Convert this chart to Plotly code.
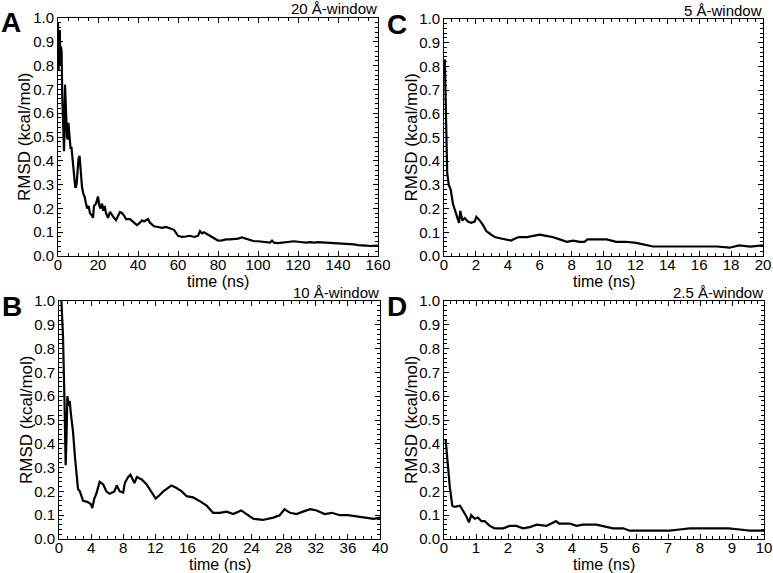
import plotly.graph_objects as go

# ---------------- data ----------------
tA = [0, 0.3, 0.6, 0.9, 1.2, 1.5, 1.8, 2.1, 2.4, 2.7, 3.0, 3.2, 3.5, 3.8, 4.1, 4.5, 4.9, 5.2, 5.6, 5.9, 6.3, 6.7, 7.0,
      7.4, 7.8, 8.2, 8.6, 9.0, 9.4, 9.8,
      10.3, 10.8, 11.4, 12.0, 12.7, 13.3, 14.0, 14.6, 15.3, 16.0, 17.0, 17.5, 18.0, 19.0, 20.0, 20.7, 21.3,
      22.0, 22.6, 23.3, 24.0, 25.0, 26.0, 27.0, 28.0, 29.0, 30.0, 31.0, 32.0, 33.0, 34.0, 36.0, 38.0, 39.5,
      41.0, 42.0, 43.0, 44.0, 45.0, 46.0, 48.0, 50.0, 52.0, 54.0, 56.0, 58.0, 60.0, 62.0, 64.0, 66.0, 68.0,
      70.0, 71.0, 72.0, 73.0, 74.0, 76.0, 78.0, 80.0, 82.0, 84.0, 86.0, 88.0, 90.0, 92.0, 94.0, 96.0, 98.0,
      100.0, 102.0, 104.0, 106.0, 107.0, 108.0, 110.0, 112.0, 114.0, 116.0, 118.0, 120.0, 122.0, 124.0,
      126.0, 128.0, 130.0, 132.0, 134.0, 136.0, 138.0, 140.0, 142.0, 144.0, 146.0, 148.0, 150.0, 152.0,
      154.0, 156.0, 158.0, 160.0]
rA = [0.98, 0.78, 0.93, 0.95, 0.80, 0.88, 0.86, 0.68, 0.63, 0.52, 0.44, 0.50, 0.72, 0.62, 0.55, 0.50, 0.49, 0.56, 0.52, 0.48, 0.45, 0.46, 0.43,
      0.41, 0.36, 0.31, 0.29, 0.29, 0.31, 0.36,
      0.41, 0.42, 0.36, 0.29, 0.26, 0.25, 0.22, 0.20, 0.21, 0.18, 0.17, 0.16, 0.21, 0.22, 0.25, 0.21, 0.20,
      0.22, 0.19, 0.21, 0.18, 0.16, 0.185, 0.17, 0.16, 0.15, 0.17, 0.185, 0.18, 0.17, 0.155, 0.155, 0.14, 0.13,
      0.14, 0.15, 0.145, 0.15, 0.155, 0.14, 0.125, 0.122, 0.118, 0.122, 0.116, 0.11, 0.085, 0.08, 0.082, 0.085, 0.08,
      0.085, 0.105, 0.095, 0.10, 0.095, 0.085, 0.075, 0.065, 0.066, 0.07, 0.07, 0.07, 0.073, 0.078, 0.072, 0.066, 0.062,
      0.062, 0.06, 0.057, 0.056, 0.065, 0.056, 0.054, 0.056, 0.057, 0.062, 0.062, 0.06, 0.057, 0.056,
      0.058, 0.056, 0.058, 0.057, 0.055, 0.056, 0.055, 0.053, 0.053, 0.051, 0.05, 0.049, 0.046, 0.046,
      0.044, 0.042, 0.043, 0.044]

tB = [0.3, 0.5, 0.7, 0.83, 0.95, 1.04, 1.2, 1.33, 1.5, 1.75, 2.0, 2.16, 2.37, 2.6, 2.8, 3.0, 3.3, 3.6, 4.0, 4.15,
      4.4, 4.65, 5.07, 5.5, 5.9, 6.3, 6.9, 7.2, 7.57, 8.0, 8.2, 8.6, 8.9, 9.2, 9.4, 9.7, 10.3, 10.9, 11.5,
      12.05, 12.55, 13.0, 13.6, 14.0, 14.6, 15.3, 15.9, 16.7, 17.5, 18.4, 19.2, 20.0, 20.9, 21.7, 22.7,
      23.6, 24.2, 25.4, 26.7, 27.5, 28.1, 28.8, 29.6, 30.4, 31.3, 32.1, 33.1, 34.0, 35.0, 36.0, 37.1,
      38.3, 39.2, 40.0]
rB = [1.0, 0.85, 0.55, 0.31, 0.45, 0.60, 0.56, 0.58, 0.52, 0.45, 0.34, 0.28, 0.21, 0.20, 0.18, 0.16, 0.158, 0.155, 0.145, 0.13,
      0.17, 0.19, 0.24, 0.23, 0.20, 0.19, 0.20, 0.225, 0.20, 0.195, 0.235, 0.26, 0.27, 0.245, 0.235, 0.26, 0.25, 0.23, 0.20,
      0.17, 0.185, 0.20, 0.215, 0.225, 0.215, 0.20, 0.18, 0.175, 0.16, 0.14, 0.11, 0.11, 0.115, 0.105, 0.12,
      0.10, 0.085, 0.08, 0.09, 0.10, 0.125, 0.11, 0.105, 0.115, 0.125, 0.12, 0.105, 0.11, 0.10, 0.10, 0.095,
      0.09, 0.085, 0.09]

tC = [0.05, 0.15, 0.2, 0.3, 0.42, 0.56, 0.77, 0.94, 1.02, 1.15, 1.3, 1.5, 1.7, 1.92, 2.03, 2.24, 2.45, 2.65,
      2.86, 3.18, 3.5, 3.9, 4.2, 4.5, 4.7, 5.2, 5.6, 6.0, 6.4, 6.8, 7.25, 7.7, 8.1, 8.5, 8.8, 9.0, 9.55,
      10.2, 10.8, 11.4, 12.05, 12.7, 13.1, 13.9, 15.0, 16.0, 17.1, 17.9, 18.5, 19.2, 20.0]
rC = [0.83, 0.55, 0.35, 0.30, 0.28, 0.22, 0.17, 0.14, 0.19, 0.15, 0.16, 0.145, 0.14, 0.145, 0.165, 0.15, 0.13, 0.105,
      0.095, 0.08, 0.075, 0.07, 0.065, 0.075, 0.08, 0.08, 0.085, 0.09, 0.085, 0.08, 0.07, 0.06, 0.065, 0.06, 0.06, 0.07, 0.07,
      0.07, 0.06, 0.06, 0.055, 0.045, 0.04, 0.04, 0.04, 0.04, 0.04, 0.035, 0.045, 0.04, 0.045]

tD = [0.05, 0.12, 0.18, 0.26, 0.33, 0.5, 0.6, 0.7, 0.78, 0.85, 0.96, 1.06, 1.17, 1.27, 1.43, 1.58, 1.85, 2.05,
      2.26, 2.47, 2.68, 2.9, 3.2, 3.4, 3.5, 3.6, 3.93, 4.14, 4.34, 4.76, 4.97, 5.28, 5.6, 5.8, 6.4, 7.05,
      7.36, 7.68, 8.1, 8.5, 8.9, 9.24, 9.55, 10.0]
rD = [0.42, 0.30, 0.22, 0.14, 0.135, 0.14, 0.12, 0.095, 0.07, 0.10, 0.085, 0.09, 0.075, 0.075, 0.055, 0.045, 0.045, 0.055,
      0.055, 0.045, 0.05, 0.06, 0.055, 0.07, 0.075, 0.065, 0.065, 0.055, 0.06, 0.06, 0.055, 0.045, 0.045, 0.035, 0.035, 0.035,
      0.04, 0.045, 0.045, 0.045, 0.045, 0.04, 0.035, 0.035]

panel_letters = ["A", "C", "B", "D"]
window_labels = ["20 Å-window", "5 Å-window", "10 Å-window", "2.5 Å-window"]
x_ranges = [[0, 160], [0, 20], [0, 40], [0, 10]]
x_dticks = [20, 2, 4, 1]
x_minor = [5, 0.5, 1, 0.2]
y_title = "RMSD (kcal/mol)"
x_title = "time (ns)"

# ---------------- layout geometry ----------------
W, H = 773, 573
px = lambda v: v / W
py = lambda v: 1 - v / H
boxes = [  # left, right, top, bottom in pixels
    (58, 378, 18, 256),
    (444, 763, 19, 256),
    (59, 380, 301, 539),
    (444, 764, 301, 539),
]
series = [(tA, rA), (tC, rC), (tB, rB), (tD, rD)]

FONT = "Liberation Sans, Arial, Helvetica, sans-serif"
fig = go.Figure()
annotations = []
for i, ((l, r, t, b), (xs, ys)) in enumerate(zip(boxes, series)):
    n = i + 1
    xa = "x" if n == 1 else f"x{n}"
    ya = "y" if n == 1 else f"y{n}"
    fig.add_trace(go.Scatter(x=xs, y=ys, mode="lines", line=dict(color="black", width=2.2),
                             xaxis=xa, yaxis=ya, showlegend=False, hoverinfo="x+y"))
    common = dict(showline=True, linecolor="black", linewidth=1, mirror="allticks", ticks="inside",
                  ticklen=5, tickwidth=1, tickcolor="black", showgrid=False, zeroline=False,
                  automargin=False, tickfont=dict(family=FONT, size=15, color="black"))
    fig.update_layout(**{
        ("xaxis" if n == 1 else f"xaxis{n}"): dict(
            domain=[px(l), px(r)], anchor=ya, range=x_ranges[i], dtick=x_dticks[i], tick0=0,
            minor=dict(ticks="inside", ticklen=3, dtick=x_minor[i], tickcolor="black", showgrid=False),
            ticklabelstandoff=-5, **common),
        ("yaxis" if n == 1 else f"yaxis{n}"): dict(
            domain=[py(b), py(t)], anchor=xa, range=[0, 1.0], dtick=0.1, tick0=0, tickformat=".1f",
            minor=dict(ticks="inside", ticklen=3, dtick=0.02, tickcolor="black", showgrid=False),
            ticklabelstandoff=0, **common),
    })
    # panel letter
    annotations.append(dict(x=px(l - 47), y=py(t + 5), xref="paper", yref="paper", text=f"<b>{panel_letters[i]}</b>",
                            showarrow=False, xanchor="center", yanchor="middle",
                            font=dict(family=FONT, size=28, color="black")))
    # window label
    annotations.append(dict(x=px(r + 1), y=py(t - 9), xref="paper", yref="paper", text=window_labels[i],
                            showarrow=False, xanchor="right", yanchor="middle",
                            font=dict(family=FONT, size=15, color="black")))
    # y-axis title
    annotations.append(dict(x=px(l - 33), y=py((t + b) / 2), xref="paper", yref="paper", text=y_title,
                            showarrow=False, xanchor="center", yanchor="middle", textangle=-90,
                            font=dict(family=FONT, size=17, color="black")))
    # x-axis title
    annotations.append(dict(x=px((l + r) / 2), y=py(b + 25), xref="paper", yref="paper", text=x_title,
                            showarrow=False, xanchor="center", yanchor="middle",
                            font=dict(family=FONT, size=16, color="black")))

fig.update_layout(width=W, height=H, margin=dict(l=0, r=0, t=0, b=0, pad=0, autoexpand=False),
                  paper_bgcolor="white", plot_bgcolor="white", annotations=annotations,
                  font=dict(family=FONT, color="black"))
fig.write_html("out.html", config={"displayModeBar": False},
               post_script="document.body.style.margin='0px';document.body.style.overflow='hidden';")
